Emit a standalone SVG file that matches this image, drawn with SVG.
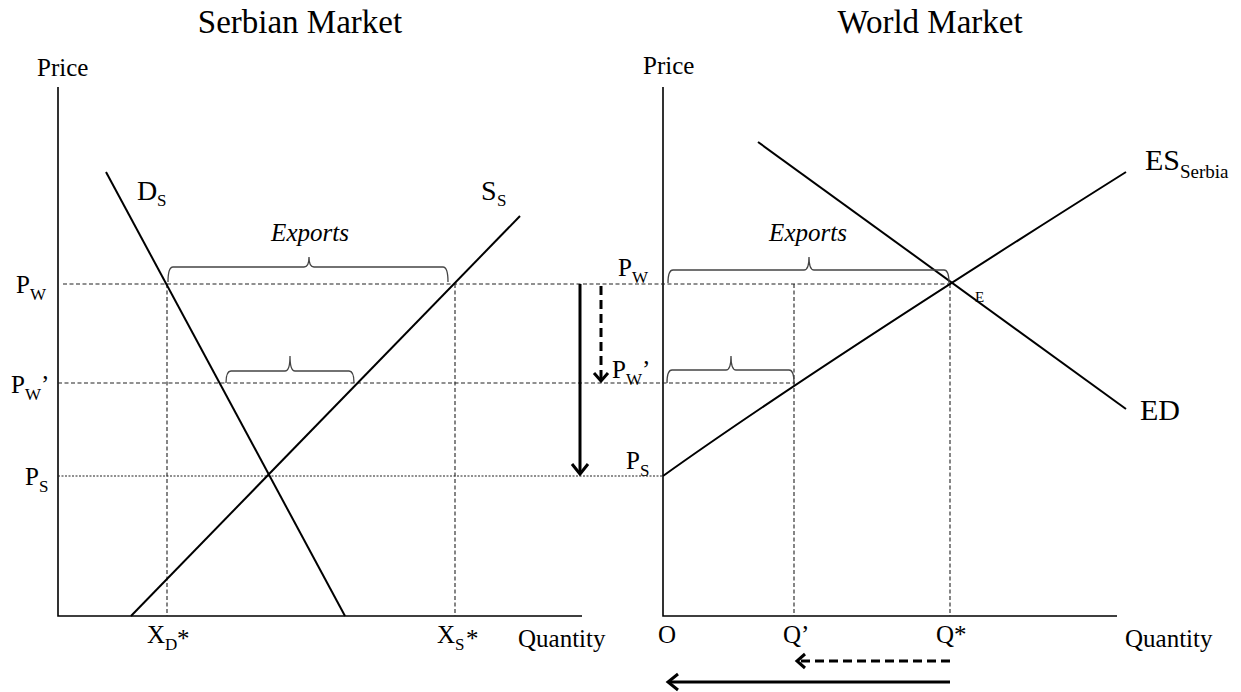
<svg xmlns="http://www.w3.org/2000/svg" width="1241" height="692" viewBox="0 0 1241 692">
<defs>
<style>
text{font-family:"Liberation Serif","Times New Roman",serif;fill:#000}
.t{font-size:33px}
.l{font-size:25px}
.b{font-size:28px}
.s{font-size:17px}
.it{font-size:25px;font-style:italic}
.ax{stroke:#000;stroke-width:1.6;fill:none}
.cv{stroke:#000;stroke-width:2;fill:none}
.dl{stroke:#222;stroke-width:1.1;stroke-dasharray:4 2.5;fill:none}
.br{stroke:#444;stroke-width:1.3;fill:none}
.ar{stroke:#000;stroke-width:3;fill:none}
</style>
<marker id="hd" markerUnits="userSpaceOnUse" markerWidth="20" markerHeight="20" viewBox="0 0 20 20" refX="16" refY="10" orient="auto">
<path d="M6,2 L16,10 L6,18" fill="none" stroke="#000" stroke-width="3"/>
</marker>
<marker id="hs" markerUnits="userSpaceOnUse" markerWidth="20" markerHeight="20" viewBox="0 0 20 20" refX="16" refY="10" orient="auto">
<path d="M8,3 L16,10 L8,17" fill="none" stroke="#000" stroke-width="3"/>
</marker>
</defs>

<g id="titles">
<text class="t" x="300" y="33" text-anchor="middle">Serbian Market</text>
<text class="t" x="930" y="33" text-anchor="middle">World Market</text>
</g>

<g id="serbian-axes">
<text class="l" x="37" y="76">Price</text>
<path class="ax" d="M58,87 L58,616 L582,616"/>
<text class="l" x="518" y="647">Quantity</text>
</g>

<g id="world-axes">
<text class="l" x="643" y="74">Price</text>
<path class="ax" d="M663,87 L663,616 L1117,616"/>
<text class="l" x="1125" y="647">Quantity</text>
</g>

<g id="guides">
<path class="dl" d="M63,284 L950,284"/>
<path class="dl" d="M58,383 L795,383"/>
<path class="dl" d="M58,476 L663,476" style="stroke-dasharray:2 1.5"/>
<path class="dl" d="M167,284 L167,616"/>
<path class="dl" d="M455,284 L455,616"/>
<path class="dl" d="M794,284 L794,616"/>
<path class="dl" d="M950,284 L950,616"/>
</g>

<g id="demand-DS">
<path class="cv" d="M106,172 L345,616"/>
<text class="b" x="137" y="200">D</text>
<text class="s" x="157" y="206">S</text>
</g>

<g id="supply-SS">
<path class="cv" d="M131,616 L520,216"/>
<text class="b" x="481" y="200">S</text>
<text class="s" x="497" y="206">S</text>
</g>

<g id="excess-supply">
<path class="cv" d="M663,476 Q807,373 1126,172"/>
<text x="1145" y="170" style="font-size:30px">ES</text>
<text x="1180" y="178" style="font-size:19px">Serbia</text>
</g>

<g id="excess-demand">
<path class="cv" d="M758,142 L1126,409"/>
<text x="1140" y="420" style="font-size:30px">ED</text>
<text x="975" y="302" style="font-size:15px">E</text>
</g>

<g id="left-price-labels">
<text class="l" x="16" y="293">P</text>
<text class="s" x="30" y="300">W</text>
<text class="l" x="11" y="393">P</text>
<text class="s" x="25" y="400">W</text>
<text class="l" x="41" y="393">’</text>
<text class="l" x="25" y="485">P</text>
<text class="s" x="39" y="492">S</text>
</g>

<g id="right-price-labels">
<text class="l" x="618" y="276">P</text>
<text class="s" x="632" y="283">W</text>
<text class="l" x="612" y="378">P</text>
<text class="s" x="626" y="385">W</text>
<text class="l" x="642" y="378">’</text>
<text class="l" x="626" y="469">P</text>
<text class="s" x="640" y="476">S</text>
</g>

<g id="quantity-labels">
<text class="l" x="147" y="643">X</text>
<text class="s" x="165" y="650">D</text>
<text class="l" x="177" y="647">*</text>
<text class="l" x="437" y="643">X</text>
<text class="s" x="455" y="650">S</text>
<text class="l" x="466" y="647">*</text>
<text class="l" x="658" y="643">O</text>
<text class="l" x="783" y="643">Q’</text>
<text class="l" x="936" y="643">Q*</text>
</g>

<g id="exports-braces">
<text class="it" x="310" y="241" text-anchor="middle">Exports</text>
<path class="br" d="M168,282 Q168,267 173,267 L304,267 Q309,267 309,257 Q309,267 314,267 L443,267 Q448,267 448,282"/>
<path class="br" d="M226,383 Q226,371 231,371 L285,371 Q290,371 290,356 Q290,371 295,371 L349,371 Q354,371 354,383"/>
<text class="it" x="808" y="241" text-anchor="middle">Exports</text>
<path class="br" d="M668,283 Q668,270 673,270 L804,270 Q809,270 809,257 Q809,270 814,270 L944,270 Q949,270 949,283"/>
<path class="br" d="M667,383 Q667,370 672,370 L726,370 Q731,370 731,356 Q731,370 736,370 L789,370 Q794,370 794,383"/>
</g>

<g id="connectors">
<path class="ar" d="M580,284 L580,474" marker-end="url(#hd)"/>
<path class="ar" d="M601,286 L601,381" style="stroke-dasharray:9 5" marker-end="url(#hs)"/>
<path class="ar" d="M950,661 L797,661" style="stroke-dasharray:9 5" marker-end="url(#hs)"/>
<path class="ar" d="M950,682 L668,682" marker-end="url(#hd)"/>
</g>
</svg>
